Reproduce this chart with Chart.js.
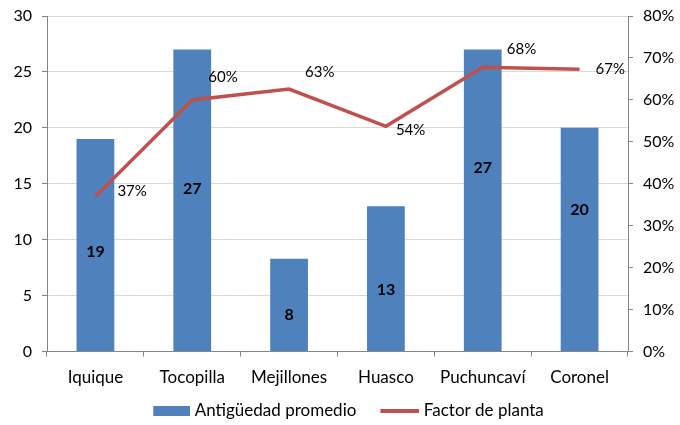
<!DOCTYPE html>
<html>
<head>
<meta charset="utf-8">
<script src="https://cdn.jsdelivr.net/npm/chart.js@4/dist/chart.umd.min.js"></script>
<style>
  html, body { margin: 0; padding: 0; background: #fff; }
  #wrap { width: 680px; height: 425px; position: relative; }
</style>
</head>
<body>
<div id="wrap"><canvas id="c" width="680" height="425"></canvas></div>
<script>
const categories = ['Iquique', 'Tocopilla', 'Mejillones', 'Huasco', 'Puchuncaví', 'Coronel'];
const antiguedad = [19, 27, 8.3, 13, 27, 20];
const factorPlanta = [0.37, 0.60, 0.626, 0.537, 0.678, 0.673];
const seriesNames = ['Antigüedad promedio', 'Factor de planta'];
const leftTicks = [0, 5, 10, 15, 20, 25, 30];
const rightTicks = [0, 0.1, 0.2, 0.3, 0.4, 0.5, 0.6, 0.7, 0.8];

const FONT = 'Lato';
const BLUE = '#4f81bd';
const RED = '#c0504d';

// label offsets (pixels) for manual label placement as in the reference
const barLabelShift = [7, -11, 10, 11, -32, -30];
const lineLabelShift = [[22, -5], [16, -23], [16, -17], [10, 4], [24, -18], [16, 0]];

function makeSwatch(totalW, w, h, color) {
  const cv = document.createElement('canvas');
  cv.width = totalW; cv.height = h;
  const cx = cv.getContext('2d');
  cx.fillStyle = color;
  cx.fillRect(totalW - w, 0, w, h);
  return cv;
}
const barSwatch = makeSwatch(64, 37, 10, BLUE);
const lineSwatch = makeSwatch(64, 39, 4, RED);

const labelPlugin = {
  id: 'valueLabels',
  afterDatasetsDraw(chart) {
    const ctx = chart.ctx;
    ctx.save();
    ctx.fillStyle = '#000';
    ctx.textBaseline = 'middle';
    const barMeta = chart.getDatasetMeta(0);
    ctx.font = 'bold 16px ' + FONT;
    ctx.textAlign = 'center';
    barMeta.data.forEach((el, i) => {
      const v = antiguedad[i];
      ctx.fillText(String(Math.round(v)), el.x, (el.y + el.base) / 2 + barLabelShift[i]);
    });
    const lineMeta = chart.getDatasetMeta(1);
    ctx.font = '15px ' + FONT;
    ctx.textAlign = 'left';
    lineMeta.data.forEach((el, i) => {
      const v = factorPlanta[i];
      ctx.fillText(Math.round(v * 100) + '%', el.x + lineLabelShift[i][0], el.y + lineLabelShift[i][1]);
    });
    ctx.restore();
  }
};

function fixVertPadding(s, w) {
  s.width = w;
  s.paddingTop = 0;
  s.paddingBottom = 0;
}

new Chart(document.getElementById('c'), {
  data: {
    labels: categories,
    datasets: [
      {
        type: 'bar',
        label: seriesNames[0],
        data: antiguedad,
        backgroundColor: BLUE,
        yAxisID: 'y',
        barPercentage: 0.39,
        categoryPercentage: 1,
        order: 1,
        pointStyle: barSwatch
      },
      {
        type: 'line',
        label: seriesNames[1],
        data: factorPlanta,
        borderColor: RED,
        backgroundColor: RED,
        borderWidth: 3.5,
        pointRadius: 0,
        tension: 0,
        yAxisID: 'y1',
        order: 0,
        pointStyle: lineSwatch
      }
    ]
  },
  options: {
    responsive: false,
    animation: false,
    devicePixelRatio: 1,
    layout: { padding: { top: 16, left: -6, right: 0, bottom: -4 } },
    plugins: {
      tooltip: { enabled: false },
      legend: {
        position: 'bottom',
        labels: {
          usePointStyle: true,
          pointStyleWidth: 56,
          boxHeight: 12,
          padding: 3,
          color: '#000',
          font: { family: FONT, size: 17 },
          sort: (a, b) => a.datasetIndex - b.datasetIndex
        }
      }
    },
    scales: {
      x: {
        grid: { offset: true, drawOnChartArea: false, tickLength: 5, color: '#868686' },
        border: { color: '#868686' },
        ticks: { color: '#000', font: { family: FONT, size: 17 }, padding: 11, maxRotation: 0 }
      },
      y: {
        position: 'left',
        min: 0, max: 30,
        afterBuildTicks(s) { s.ticks = leftTicks.map(v => ({ value: v })); },
        afterFit(s) { fixVertPadding(s, 53); },
        grid: { color: '#d9d9d9', tickColor: '#868686', tickLength: 5 },
        border: { color: '#868686' },
        ticks: { color: '#000', font: { family: FONT, size: 16 }, padding: 10 }
      },
      y1: {
        position: 'right',
        min: 0, max: 0.8,
        afterBuildTicks(s) { s.ticks = rightTicks.map(v => ({ value: v })); },
        afterFit(s) { fixVertPadding(s, 52); },
        grid: { drawOnChartArea: false, tickColor: '#868686', tickLength: 5 },
        border: { color: '#868686' },
        ticks: {
          color: '#000', font: { family: FONT, size: 16 }, padding: 10,
          callback: v => Math.round(v * 100) + '%'
        }
      }
    }
  },
  plugins: [labelPlugin]
});
</script>
</body>
</html>
